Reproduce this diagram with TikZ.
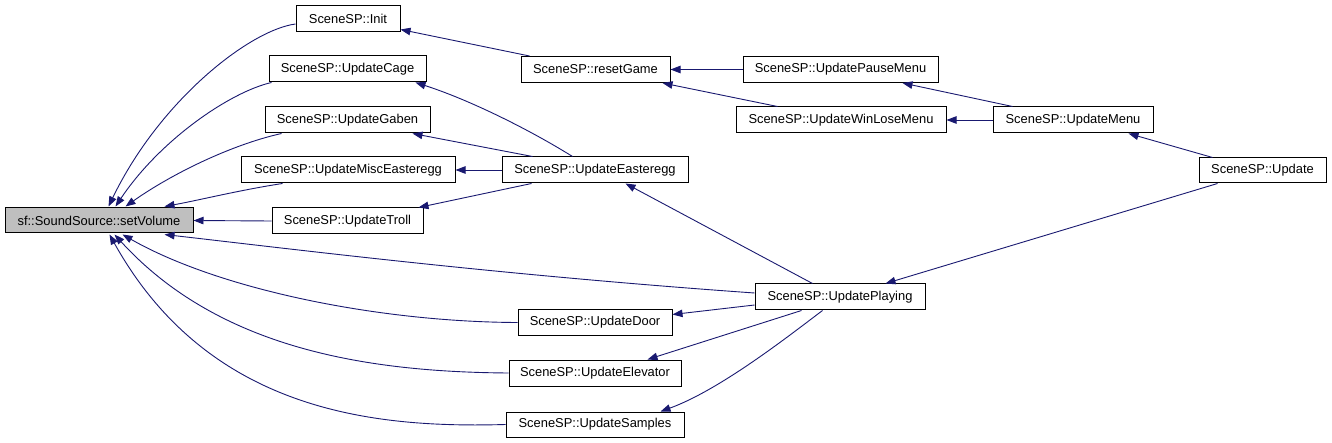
\documentclass[tikz,border=0pt]{standalone}
\usepackage{fontspec}
\setmainfont{Liberation Sans}
\usetikzlibrary{arrows.meta,calc}
\definecolor{edgeblue}{HTML}{191970}
\definecolor{svgray}{HTML}{BFBFBF}
\begin{document}
\begin{tikzpicture}[x=1pt,y=-1pt,
  fn/.style={draw=black, line width=1pt, fill=white, inner sep=0pt, minimum height=26pt,
             font=\fontsize{12.9}{15}\selectfont, text=black},
  edge/.style={draw=edgeblue, line width=0.9pt, -{Triangle[length=10pt,width=7.5pt]}}]
\useasboundingbox (0,0) rectangle (1332,443);
% nodes
\node[fn, minimum width=188pt, minimum height=25pt, fill=svgray] (sv) at (99,220.5) {sf::SoundSource::setVolume};
\node[fn, minimum width=104pt] (init) at (348,19) {SceneSP::Init};
\node[fn, minimum width=157pt] (cage) at (347.5,69) {SceneSP::UpdateCage};
\node[fn, minimum width=165pt] (gaben) at (347.5,120) {SceneSP::UpdateGaben};
\node[fn, minimum width=214pt] (misc) at (348,170) {SceneSP::UpdateMiscEasteregg};
\node[fn, minimum width=151pt] (troll) at (347.5,221) {SceneSP::UpdateTroll};
\node[fn, minimum width=149pt] (reset) at (595.5,69.5) {SceneSP::resetGame};
\node[fn, minimum width=186pt] (easter) at (595,170) {SceneSP::UpdateEasteregg};
\node[fn, minimum width=195pt] (pause) at (840.5,69.5) {SceneSP::UpdatePauseMenu};
\node[fn, minimum width=210pt] (winlose) at (841,120) {SceneSP::UpdateWinLoseMenu};
\node[fn, minimum width=160pt] (menu) at (1073,120) {SceneSP::UpdateMenu};
\node[fn, minimum width=127pt, minimum height=25pt] (update) at (1262.5,170.5) {SceneSP::Update};
\node[fn, minimum width=170pt] (playing) at (840,297) {SceneSP::UpdatePlaying};
\node[fn, minimum width=154pt, minimum height=25pt] (door) at (595,322.5) {SceneSP::UpdateDoor};
\node[fn, minimum width=172pt] (elev) at (595,373) {SceneSP::UpdateElevator};
\node[fn, minimum width=178pt, minimum height=25pt] (samples) at (595,424.5) {SceneSP::UpdateSamples};
% edges into setVolume
\draw[edge] ($(init.west)+(0,5)$) .. controls (250,30) and (160,100) .. ($(sv.north west)+(104,-1)$);
\draw[edge] ($(cage.south west)+(3,0)$) .. controls (230,92) and (160,140) .. ($(sv.north west)+(111,-1)$);
\draw[edge] ($(gaben.south west)+(17,0)$) .. controls (230,145) and (170,175) .. ($(sv.north west)+(121,-1)$);
\draw[edge] ($(misc.south west)+(42,0)$) .. controls (240,190) and (200,200) .. ($(sv.north west)+(160,-1)$);
\draw[edge] (troll.west) -- (sv.east);
\draw[edge] ($(playing.west)+(0,-4)$) .. controls (500,275) and (300,250) .. ($(sv.south west)+(160,1)$);
\draw[edge] (door.west) .. controls (380,322) and (220,290) .. ($(sv.south west)+(118,1)$);
\draw[edge] (elev.west) .. controls (370,372) and (220,350) .. ($(sv.south west)+(110,1)$);
\draw[edge] (samples.west) .. controls (380,428) and (210,415) .. ($(sv.south west)+(105,1)$);
% other edges
\draw[edge] ($(reset.north west)+(9,0)$) -- ($(init.south east)+(0,-3)$);
\draw[edge] ($(easter.north west)+(71,0)$) .. controls (530,130) and (470,100) .. ($(cage.south east)+(-11,0)$);
\draw[edge] ($(easter.north west)+(31,0)$) -- ($(gaben.south east)+(-18,0)$);
\draw[edge] (easter.west) -- (misc.east);
\draw[edge] ($(easter.south west)+(30,0)$) -- ($(troll.north east)+(-5,0)$);
\draw[edge] (pause.west) -- (reset.east);
\draw[edge] ($(winlose.north west)+(42,0)$) -- ($(reset.south east)+(-8,0)$);
\draw[edge] ($(menu.north west)+(20,0)$) -- ($(pause.south east)+(-36,0)$);
\draw[edge] (menu.west) -- (winlose.east);
\draw[edge] ($(update.north west)+(14,0)$) -- ($(menu.south east)+(-25,0)$);
\draw[edge] ($(update.south west)+(19,0)$) -- ($(playing.north east)+(-40,0)$);
\draw[edge] ($(playing.north west)+(58,0)$) -- ($(easter.south east)+(-63,0)$);
\draw[edge] ($(playing.west)+(0,8)$) -- ($(door.east)+(0,-8)$);
\draw[edge] ($(playing.south west)+(47,0)$) -- ($(elev.north east)+(-34,0)$);
\draw[edge] ($(playing.south west)+(68,0)$) .. controls (790,335) and (720,390) .. ($(samples.north east)+(-24,0)$);
\end{tikzpicture}
\end{document}
